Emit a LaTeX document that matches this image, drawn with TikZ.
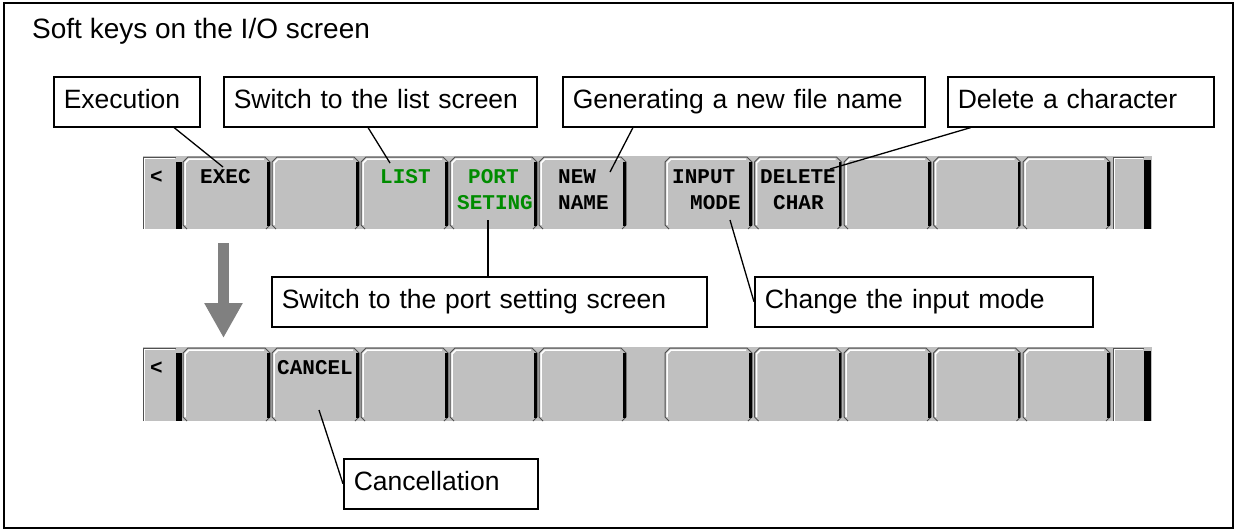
\documentclass[tikz,border=0pt]{standalone}
\usepackage{fontspec}
\setmainfont{Liberation Sans}
\newfontfamily\keyfont{Liberation Mono}
\usepackage{xcolor}
\usetikzlibrary{arrows.meta,positioning}

\definecolor{keygray}{HTML}{C0C0C0}
\definecolor{keyedge}{HTML}{505050}
\definecolor{keygreen}{HTML}{008C00}
\definecolor{arrowgray}{HTML}{808080}

\begin{document}
\begin{tikzpicture}[x=1pt, y=-1pt, >=Stealth,
    box/.style={draw, line width=1.5pt, fill=white, anchor=north west, inner xsep=10pt, inner ysep=0pt,
      minimum height=50pt, text height=19pt, text depth=5.5pt, align=left, font=\fontsize{26.5}{30}\selectfont},
    keylbl/.style={anchor=base west, inner sep=0pt, font=\keyfont\bfseries\fontsize{21}{24}\selectfont},
    leader/.style={line width=1.3pt}]
    \useasboundingbox (0,0) rectangle (1237,531);

    % Outer frame and title
    \draw[line width=2pt] (4,3) rectangle (1233,528);
    \node[anchor=base west, inner sep=0pt, font=\fontsize{28}{32}\selectfont] (title) at (32,38) {Soft keys on the I/O screen};

    % Soft key bars (before and after the change)
    \foreach \bt/\bb in {157/229, 348/421}{
        \fill[keygray] (143,\bt-1) rectangle (1152,\bb);
        % end keys with black bars
        \draw[white, line width=1.5pt] (144,\bb) -- (144,\bt+1) -- (175,\bt+1);
        \draw[keyedge, line width=1pt] (143,\bb) -- (143,\bt) -- (176,\bt);
        \fill[black] (176,\bt+5) rectangle (182,\bb);
        \draw[white, line width=1.5pt] (1114,\bb) -- (1114,\bt+1) -- (1143,\bt+1);
        \draw[keyedge, line width=1pt] (1113,\bb) -- (1113,\bt) -- (1144,\bt);
        \fill[black] (1144,\bt+3) rectangle (1151,\bb);
        % ten function keys
        \foreach \kl in {183,272,361,450,539,665,754.5,844,933.5,1023}{
            \pgfmathsetmacro\kr{\kl+87}
            \draw[keyedge, line width=1pt] (\kl,\bb-4) -- (\kl,\bt+5) -- (\kl+5,\bt) -- (\kr-5,\bt) -- (\kr,\bt+5) -- (\kr,\bb-4);
            \draw[keyedge, line width=1pt] (\kl,\bb-4) -- (\kl+4,\bb) (\kr,\bb-4) -- (\kr-4,\bb);
            \draw[white, line width=1.5pt] (\kl+2,\bb-4) -- (\kl+2,\bt+6) -- (\kl+6,\bt+2) -- (\kr-6,\bt+2);
            \draw[black, line width=2.5pt] (\kr-1.5,\bt+5) -- (\kr-1.5,\bb-3);
        }
    }

    % Key labels, upper bar
    \node[keylbl] (lessup) at (150,183) {<};
    \node[keylbl] (exec) at (200,183) {EXEC};
    \node[keylbl, text=keygreen] (list) at (380,183) {LIST};
    \node[keylbl, text=keygreen] (port) at (468,183) {PORT};
    \node[keylbl, text=keygreen] (seting) at (457,209) {SETING};
    \node[keylbl] (new) at (558,183) {NEW};
    \node[keylbl] (name) at (558,209) {NAME};
    \node[keylbl] (input) at (672,183) {INPUT};
    \node[keylbl] (mode) at (690,209) {MODE};
    \node[keylbl] (delete) at (760,183) {DELETE};
    \node[keylbl] (char) at (773,209) {CHAR};

    % Key labels, lower bar
    \node[keylbl] (lessdown) at (150,374) {<};
    \node[keylbl] (cancel) at (277,374) {CANCEL};

    % Down arrow between the bars
    \coordinate (arrowtop) at (223.5,243);
    \coordinate (arrowtip) at (223.5,338);
    \draw[arrowgray, line width=11pt, -{Triangle[length=35pt, width=36pt]}] (arrowtop) -- (arrowtip);

    % Callout boxes
    \node[box, text width=126pt] (execbox) at (53,76) {Execution};
    \node[box, text width=293pt] (listbox) at (223,76) {Switch to the list screen};
    \node[box, text width=342pt] (namebox) at (562,76) {Generating a new file name};
    \node[box, text width=246pt] (delbox) at (947,76) {Delete a character};
    \node[box, text width=415pt] (portbox) at (271,276) {Switch to the port setting screen};
    \node[box, text width=318pt] (modebox) at (754,276) {Change the input mode};
    \node[box, text width=174pt] (cancelbox) at (343,458) {Cancellation};

    % Leader lines
    \coordinate (execpt) at (223,167);
    \coordinate (listpt) at (390,163);
    \coordinate (namept) at (610,172);
    \coordinate (delpt) at (830,169);
    \coordinate (portpt) at (488,220);
    \coordinate (modept) at (730,220);
    \coordinate (cancelpt) at (319,410);
    \draw[leader] ([xshift=121pt]execbox.south west) -- (execpt);
    \draw[leader] ([xshift=145pt]listbox.south west) -- (listpt);
    \draw[leader] ([xshift=71pt]namebox.south west) -- (namept);
    \draw[leader] ([xshift=24pt]delbox.south west) -- (delpt);
    \draw[leader] (portbox.north -| portpt) -- (portpt);
    \draw[leader] (modebox.west) -- (modept);
    \draw[leader] (cancelbox.west) -- (cancelpt);
\end{tikzpicture}
\end{document}
